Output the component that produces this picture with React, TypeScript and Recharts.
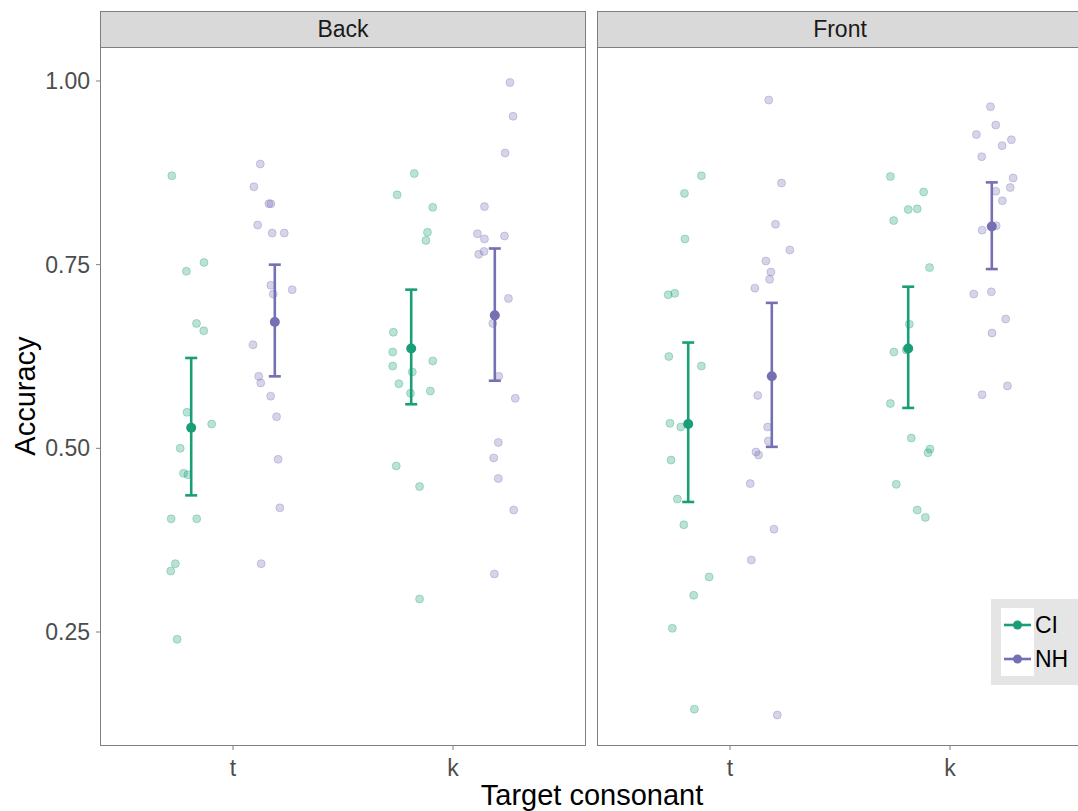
import { ErrorBar, Scatter, ScatterChart, XAxis, YAxis } from "recharts";

const FONT = '"Liberation Sans", Arial, sans-serif';
const CI_COLOR = "#1b9e77";
const NH_COLOR = "#7570b3";
const FRAME = "#7f7f7f";
const TICK_TEXT = "#4d4d4d";

const categories = ["t", "k"];
const facets = ["Back", "Front"];
const groups = ["CI", "NH"];
const yTicks = [0.25, 0.5, 0.75, 1.0];
const Y_DOMAIN: [number, number] = [0.0962, 1.0449];
const X_DOMAIN: [number, number] = [0.4, 2.6];
const DODGE = 0.19;

// raw (jittered) scores: [position on category scale, accuracy]
const backCiPoints: [number, number][] = [
  [0.722, 0.871], [0.868, 0.753], [0.788, 0.741], [0.834, 0.67], [0.867, 0.66],
  [0.791, 0.549], [0.903, 0.533], [0.76, 0.5], [0.775, 0.466], [0.795, 0.464],
  [0.719, 0.404], [0.835, 0.404], [0.738, 0.343], [0.717, 0.333], [0.746, 0.24],
  [1.824, 0.874], [1.746, 0.845], [1.908, 0.828], [1.884, 0.794], [1.877, 0.783],
  [1.729, 0.658], [1.726, 0.631], [1.726, 0.612], [1.908, 0.619], [1.815, 0.604],
  [1.754, 0.588], [1.897, 0.578], [1.807, 0.575], [1.742, 0.476], [1.848, 0.448],
  [1.848, 0.295],
];
const backNhPoints: [number, number][] = [
  [1.124, 0.887], [1.095, 0.856], [1.163, 0.833], [1.172, 0.833], [1.112, 0.804],
  [1.178, 0.793], [1.233, 0.793], [1.172, 0.722], [1.183, 0.71], [1.269, 0.716],
  [1.091, 0.641], [1.117, 0.598], [1.126, 0.589], [1.171, 0.571], [1.198, 0.543],
  [1.205, 0.485], [1.213, 0.419], [1.128, 0.343],
  [2.259, 0.998], [2.273, 0.952], [2.237, 0.902], [2.143, 0.829], [2.111, 0.792],
  [2.143, 0.785], [2.234, 0.789], [2.141, 0.768], [2.117, 0.764], [2.252, 0.704],
  [2.181, 0.67], [2.208, 0.598], [2.283, 0.568], [2.206, 0.508], [2.185, 0.487],
  [2.206, 0.459], [2.276, 0.416], [2.188, 0.329],
];
const frontCiPoints: [number, number][] = [
  [0.87, 0.871], [0.793, 0.847], [0.795, 0.785], [0.719, 0.709], [0.749, 0.711],
  [0.722, 0.625], [0.87, 0.612], [0.727, 0.534], [0.776, 0.529], [0.732, 0.484],
  [0.761, 0.431], [0.79, 0.396], [0.905, 0.325], [0.835, 0.3], [0.738, 0.255],
  [0.838, 0.145],
  [1.729, 0.87], [1.88, 0.849], [1.81, 0.825], [1.851, 0.826], [1.744, 0.81],
  [1.907, 0.746], [1.815, 0.669], [1.745, 0.631], [1.801, 0.634], [1.729, 0.561],
  [1.824, 0.514], [1.909, 0.499], [1.9, 0.494], [1.756, 0.451], [1.851, 0.416],
  [1.888, 0.406],
];
const frontNhPoints: [number, number][] = [
  [1.176, 0.974], [1.234, 0.861], [1.207, 0.805], [1.272, 0.77], [1.163, 0.755],
  [1.186, 0.74], [1.18, 0.73], [1.113, 0.718], [1.126, 0.572], [1.171, 0.529],
  [1.174, 0.51], [1.118, 0.495], [1.13, 0.491], [1.092, 0.452], [1.2, 0.39],
  [1.097, 0.348], [1.215, 0.137],
  [2.184, 0.965], [2.208, 0.94], [2.12, 0.927], [2.279, 0.92], [2.237, 0.912],
  [2.144, 0.897], [2.287, 0.868], [2.274, 0.855], [2.208, 0.85], [2.238, 0.837],
  [2.146, 0.797], [2.21, 0.803], [2.188, 0.713], [2.108, 0.71], [2.253, 0.676],
  [2.191, 0.657], [2.261, 0.585], [2.146, 0.573],
];

// group means and interval ends, per category (t, k)
const backCiMean = [0.528, 0.636];
const backCiLow = [0.436, 0.56];
const backCiHigh = [0.623, 0.716];
const backNhMean = [0.672, 0.681];
const backNhLow = [0.598, 0.592];
const backNhHigh = [0.75, 0.772];
const frontCiMean = [0.533, 0.636];
const frontCiLow = [0.427, 0.555];
const frontCiHigh = [0.644, 0.72];
const frontNhMean = [0.598, 0.802];
const frontNhLow = [0.502, 0.744];
const frontNhHigh = [0.698, 0.862];

type SummaryRow = { x: number; y: number; err: [number, number] };

function toRows(points: [number, number][]) {
  return points.map(([x, y]) => ({ x, y }));
}

function toSummary(mean: number[], low: number[], high: number[], offset: number): SummaryRow[] {
  return categories.map((_, i) => ({
    x: i + 1 + offset,
    y: mean[i],
    err: [mean[i] - low[i], high[i] - mean[i]],
  }));
}

const jitterDot = (color: string) => (p: any) =>
  (
    <circle
      cx={p.cx}
      cy={p.cy}
      r={4}
      fill={color}
      fillOpacity={0.3}
      stroke={color}
      strokeOpacity={0.3}
      strokeWidth={1}
    />
  );

const meanDot = (color: string) => (p: any) => <circle cx={p.cx} cy={p.cy} r={5} fill={color} />;

const tickStyle = { fontSize: 23, fill: TICK_TEXT, fontFamily: FONT };

function Panel({
  left,
  title,
  showY,
  ciPoints,
  nhPoints,
  ciRows,
  nhRows,
}: {
  left: number;
  title: string;
  showY: boolean;
  ciPoints: [number, number][];
  nhPoints: [number, number][];
  ciRows: SummaryRow[];
  nhRows: SummaryRow[];
}) {
  const chartLeft = showY ? 0 : left - 1;
  const width = showY ? 586 : 486;
  return (
    <>
      <div style={{ position: "absolute", left: chartLeft, top: 0 }}>
        <ScatterChart
          width={width}
          height={811}
          margin={{ top: 48, right: 1, bottom: 36, left: showY ? 0 : 1 }}
        >
          <XAxis
            type="number"
            dataKey="x"
            domain={X_DOMAIN}
            ticks={[1, 2]}
            tickFormatter={(v: number) => categories[v - 1] ?? ""}
            allowDataOverflow
            height={30}
            tickSize={5}
            tickMargin={10}
            axisLine={false}
            tickLine={{ stroke: FRAME }}
            tick={tickStyle}
          />
          <YAxis
            type="number"
            dataKey="y"
            domain={Y_DOMAIN}
            ticks={yTicks}
            tickFormatter={(v: number) => v.toFixed(2)}
            allowDataOverflow
            hide={!showY}
            width={101}
            tickSize={5}
            tickMargin={6}
            axisLine={false}
            tickLine={{ stroke: FRAME }}
            tick={tickStyle}
          />
          <Scatter data={toRows(ciPoints)} shape={jitterDot(CI_COLOR)} isAnimationActive={false} />
          <Scatter data={toRows(nhPoints)} shape={jitterDot(NH_COLOR)} isAnimationActive={false} />
          <Scatter data={ciRows} shape={meanDot(CI_COLOR)} isAnimationActive={false}>
            <ErrorBar dataKey="err" direction="y" width={6} stroke={CI_COLOR} strokeWidth={2.6} isAnimationActive={false} />
          </Scatter>
          <Scatter data={nhRows} shape={meanDot(NH_COLOR)} isAnimationActive={false}>
            <ErrorBar dataKey="err" direction="y" width={6} stroke={NH_COLOR} strokeWidth={2.6} isAnimationActive={false} />
          </Scatter>
        </ScatterChart>
      </div>
      <div
        style={{
          position: "absolute",
          left: left - 1,
          top: 47,
          width: 486,
          height: 699,
          boxSizing: "border-box",
          border: `1px solid ${FRAME}`,
          pointerEvents: "none",
        }}
      />
      <div
        style={{
          position: "absolute",
          left: left - 1,
          top: 11,
          width: 486,
          height: 37,
          boxSizing: "border-box",
          border: `1px solid ${FRAME}`,
          background: "#d9d9d9",
          display: "flex",
          alignItems: "center",
          justifyContent: "center",
          fontSize: 23,
          color: "#1a1a1a",
        }}
      >
        {title}
      </div>
    </>
  );
}

function LegendKey({ color, label, top }: { color: string; label: string; top: number }) {
  return (
    <div style={{ position: "absolute", left: 0, top, height: 34, display: "flex", alignItems: "center" }}>
      <svg width={33} height={34} style={{ background: "#fff", display: "block" }}>
        <line x1={3} x2={30} y1={17} y2={17} stroke={color} strokeWidth={2.6} />
        <circle cx={16.5} cy={17} r={4.5} fill={color} />
      </svg>
      <span style={{ fontSize: 23, color: "#000", marginLeft: 1 }}>{label}</span>
    </div>
  );
}

export default function App() {
  return (
    <div
      style={{
        position: "absolute",
        left: 0,
        top: 0,
        width: 1078,
        height: 811,
        overflow: "hidden",
        background: "#fff",
        fontFamily: FONT,
      }}
    >
      <Panel
        left={101}
        title={facets[0]}
        showY
        ciPoints={backCiPoints}
        nhPoints={backNhPoints}
        ciRows={toSummary(backCiMean, backCiLow, backCiHigh, -DODGE)}
        nhRows={toSummary(backNhMean, backNhLow, backNhHigh, DODGE)}
      />
      <Panel
        left={598}
        title={facets[1]}
        showY={false}
        ciPoints={frontCiPoints}
        nhPoints={frontNhPoints}
        ciRows={toSummary(frontCiMean, frontCiLow, frontCiHigh, -DODGE)}
        nhRows={toSummary(frontNhMean, frontNhLow, frontNhHigh, DODGE)}
      />
      <div
        style={{
          position: "absolute",
          left: 25,
          top: 396,
          transform: "translate(-50%, -50%) rotate(-90deg)",
          fontSize: 29,
          color: "#000",
          whiteSpace: "nowrap",
          lineHeight: 1,
        }}
      >
        Accuracy
      </div>
      <div
        style={{
          position: "absolute",
          left: 592,
          top: 795,
          transform: "translate(-50%, -50%)",
          fontSize: 29,
          color: "#000",
          whiteSpace: "nowrap",
          lineHeight: 1,
        }}
      >
        Target consonant
      </div>
      <div style={{ position: "absolute", left: 991, top: 599, width: 100, height: 86, background: "#e5e5e5" }}>
        <div style={{ position: "absolute", left: 10, top: 9 }}>
          <LegendKey color={CI_COLOR} label={groups[0]} top={0} />
          <LegendKey color={NH_COLOR} label={groups[1]} top={34} />
        </div>
      </div>
    </div>
  );
}
